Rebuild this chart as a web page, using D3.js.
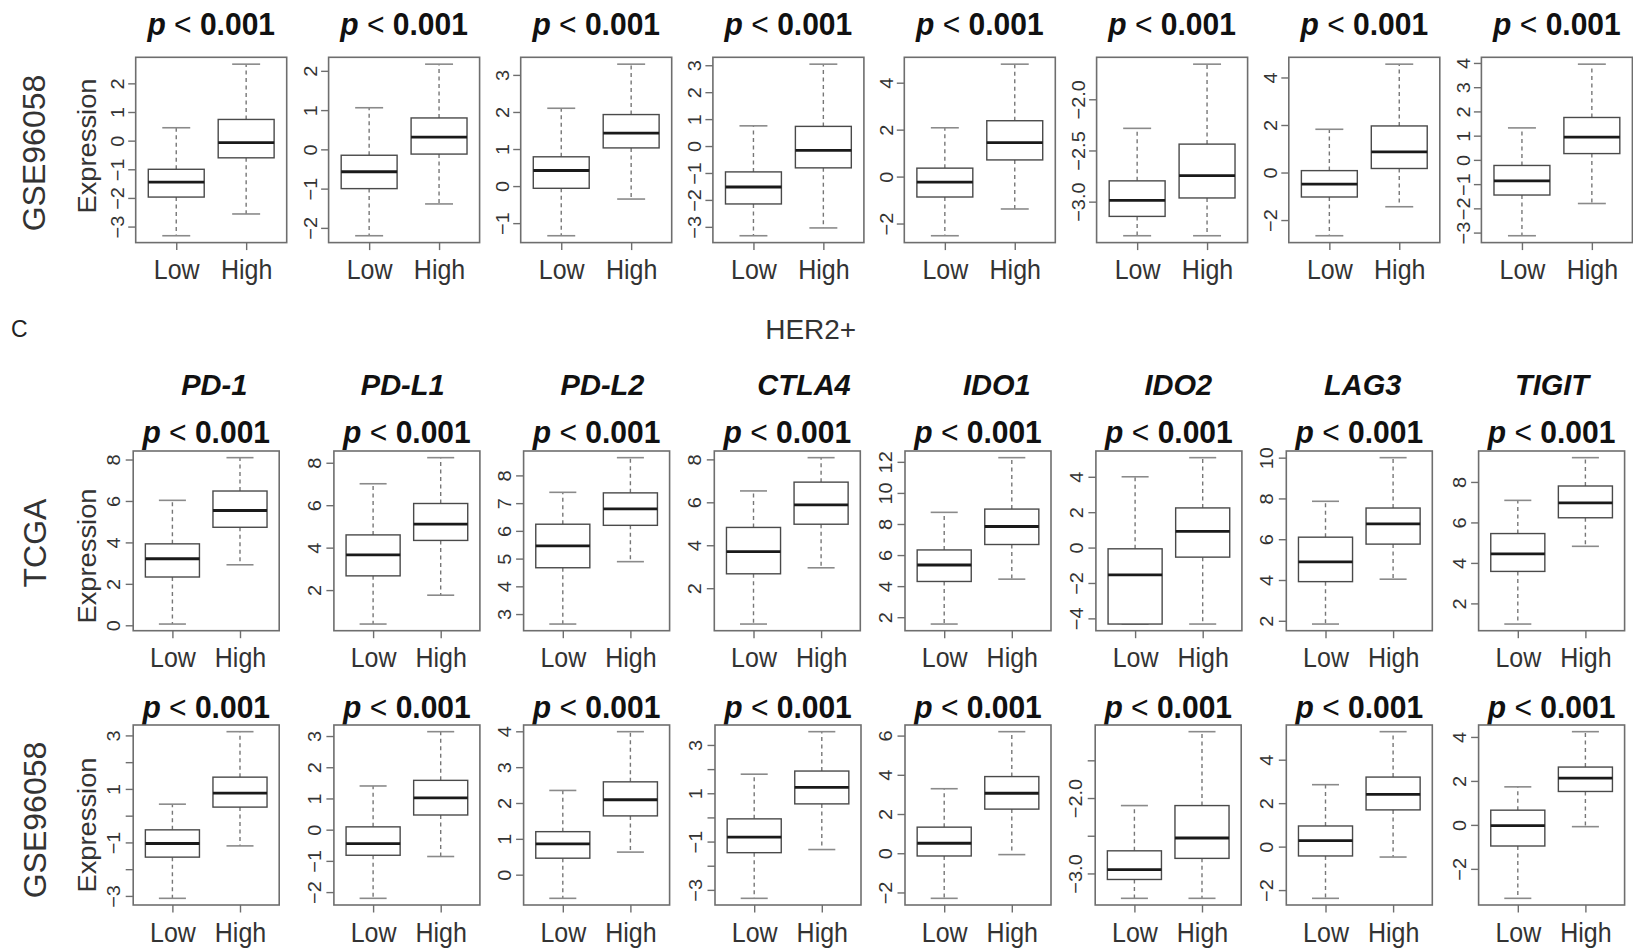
<!DOCTYPE html>
<html><head><meta charset="utf-8">
<script src="https://cdn.jsdelivr.net/npm/d3@7"></script>
<style>
body{margin:0;background:#fff}
svg{display:block}
text{font-family:"Liberation Sans",Arial,Helvetica,sans-serif}
</style>
</head><body>
<svg id="chart" width="1633" height="948"></svg>
<script>
// ---------------- DATA ----------------
const genes = ["PD-1","PD-L1","PD-L2","CTLA4","IDO1","IDO2","LAG3","TIGIT"];
const groups = ["Low","High"];
const rowNames = ["GSE96058","TCGA","GSE96058"];
const pLabel = ["p", " < ", "0.001"];
const subtypeTitle = "HER2+";
const panelLetter = "C";
const yLabel = "Expression";

// each box: [lower whisker, Q1, median, Q3, upper whisker]
const gseTopLow = [
  [-3.32,-1.97,-1.45,-1.00,0.45],
  [-2.20,-1.00,-0.57,-0.15,1.06],
  [-1.34,-0.06,0.42,0.79,2.10],
  [-3.33,-2.15,-1.52,-0.96,0.75],
  [-2.52,-0.87,-0.24,0.36,2.08],
  [-3.333,-3.144,-2.987,-2.797,-2.284],
  [-2.66,-1.03,-0.49,0.08,1.82],
  [-3.13,-1.45,-0.87,-0.23,1.32]
];
const gseTopHigh = [
  [-2.56,-0.60,-0.07,0.74,2.67],
  [-1.39,-0.12,0.31,0.80,2.17],
  [-0.35,1.03,1.43,1.93,3.29],
  [-3.04,-0.81,-0.16,0.73,3.04],
  [-1.38,0.71,1.45,2.38,4.79],
  [-3.333,-2.964,-2.745,-2.438,-1.657],
  [-1.44,0.17,0.87,1.96,4.56],
  [-1.80,0.26,0.94,1.75,3.95]
];
const tcgaLow = [
  [0.06,2.33,3.21,3.93,6.03],
  [0.40,2.67,3.66,4.60,7.01],
  [2.64,4.67,5.46,6.24,7.39],
  [0.33,2.67,3.70,4.83,6.53],
  [1.56,4.30,5.36,6.33,8.75],
  [-4.32,-4.32,-1.54,-0.07,4.00],
  [1.84,3.92,4.89,6.10,7.86],
  [0.98,3.58,4.45,5.45,7.09]
];
const tcgaHigh = [
  [2.92,4.73,5.54,6.48,8.09],
  [1.76,4.34,5.11,6.08,8.24],
  [4.89,6.20,6.79,7.37,8.64],
  [2.95,4.98,5.88,6.94,8.08],
  [4.45,6.68,7.84,8.96,12.27],
  [-4.32,-0.54,0.92,2.24,5.08],
  [4.04,5.76,6.75,7.53,10.00],
  [4.82,6.23,6.97,7.80,9.20]
];
const gseBottomLow = [
  [-3.09,-1.55,-1.04,-0.53,0.43],
  [-2.20,-0.82,-0.45,0.09,1.40],
  [-0.66,0.46,0.86,1.20,2.35],
  [-3.35,-1.46,-0.82,-0.06,1.79],
  [-2.30,-0.14,0.51,1.33,3.29],
  [-3.33,-3.08,-2.95,-2.70,-2.10],
  [-2.38,-0.43,0.28,0.95,2.85],
  [-3.34,-0.96,-0.03,0.67,1.73]
];
const gseBottomHigh = [
  [-1.13,0.32,0.84,1.44,3.14],
  [-0.86,0.47,1.02,1.58,3.14],
  [0.63,1.64,2.09,2.59,3.99],
  [-1.33,0.56,1.24,1.92,3.55],
  [-0.07,2.25,3.06,3.91,6.20],
  [-3.33,-2.80,-2.53,-2.10,-1.12],
  [-0.48,1.69,2.40,3.20,5.29],
  [-0.08,1.52,2.13,2.63,4.24]
];

// y-axis tick values and their printed labels ("" = tick without label)
const gseTopTicks = [[-3,-2,-1,0,1,2],[-2,-1,0,1,2],[-1,0,1,2,3],[-3,-2,-1,0,1,2,3],[-2,0,2,4],[-3.0,-2.5,-2.0],[-2,0,2,4],[-3,-2,-1,0,1,2,3,4]];
const gseTopTickLabels = [
  ["\u22123","\u22122","\u22121","0","1","2"],
  ["\u22122","\u22121","0","1","2"],
  ["\u22121","0","1","2","3"],
  ["\u22123","\u22122","\u22121","0","1","2","3"],
  ["\u22122","0","2","4"],
  ["\u22123.0","\u22122.5","\u22122.0"],
  ["\u22122","0","2","4"],
  ["\u22123","\u22122","\u22121","0","1","2","3","4"]
];
const tcgaTicks = [[0,2,4,6,8],[2,4,6,8],[3,4,5,6,7,8],[2,4,6,8],[2,4,6,8,10,12],[-4,-2,0,2,4],[2,4,6,8,10],[2,4,6,8]];
const tcgaTickLabels = [
  ["0","2","4","6","8"],
  ["2","4","6","8"],
  ["3","4","5","6","7","8"],
  ["2","4","6","8"],
  ["2","4","6","8","10","12"],
  ["\u22124","\u22122","0","2","4"],
  ["2","4","6","8","10"],
  ["2","4","6","8"]
];
const gseBottomTicks = [[-3,-2,-1,0,1,2,3],[-2,-1,0,1,2,3],[0,1,2,3,4],[-3,-2,-1,0,1,2,3],[-2,0,2,4,6],[-3.0,-2.5,-2.0,-1.5],[-2,0,2,4],[-2,0,2,4]];
const gseBottomTickLabels = [
  ["\u22123","","\u22121","","1","","3"],
  ["\u22122","\u22121","0","1","2","3"],
  ["0","1","2","3","4"],
  ["\u22123","","\u22121","","1","","3"],
  ["\u22122","0","2","4","6"],
  ["\u22123.0","","\u22122.0",""],
  ["\u22122","0","2","4"],
  ["\u22122","0","2","4"]
];

// ---------------- LAYOUT ----------------
const rowLayout = [
  {top:57.3, height:185.3, width:151, lefts:[135.7,328.6,520.7,712.9,904.3,1096.6,1288.8,1481.4],
   pY:35, groupY:279, tickGap:11.5, rowLabelY:153, yLabelY:146},
  {top:451, height:179.7, width:146, lefts:[133.2,333.9,523.6,714.3,905,1095.9,1286.3,1478.6],
   pY:443, groupY:667, tickGap:13, rowLabelY:543, yLabelY:556},
  {top:725, height:180, width:146, lefts:[133.2,333.9,523.6,715,905,1095.2,1286.3,1478.6],
   pY:718, groupY:942, tickGap:13, rowLabelY:820, yLabelY:825}
];
const geneLabelX = [214.3,402.7,602.5,804,996.8,1178.4,1362.7,1552];

const rowsData = [
  {low:gseTopLow, high:gseTopHigh, ticks:gseTopTicks, labels:gseTopTickLabels},
  {low:tcgaLow, high:tcgaHigh, ticks:tcgaTicks, labels:tcgaTickLabels},
  {low:gseBottomLow, high:gseBottomHigh, ticks:gseBottomTicks, labels:gseBottomTickLabels}
];

const svg = d3.select("#chart");
const FRAME = "#6e6e6e";

rowsData.forEach((rd, r) => {
  const L = rowLayout[r];
  const bottom = L.top + L.height;

  // row label
  svg.append("text")
    .attr("transform", `translate(${r===0?45:46},${L.rowLabelY}) rotate(-90)`)
    .attr("text-anchor","middle").attr("font-size",32).attr("fill","#333")
    .text(rowNames[r]);
  // y label
  svg.append("text")
    .attr("transform", `translate(96,${L.yLabelY}) rotate(-90) scale(1.05,1)`)
    .attr("text-anchor","middle").attr("font-size",26).attr("fill","#333")
    .text(yLabel);

  for (let i = 0; i < 8; i++) {
    const left = L.lefts[i], right = left + L.width;
    const boxes = [rd.low[i], rd.high[i]];
    const all = boxes.flat();
    const mn = d3.min(all), mx = d3.max(all), pad = 0.04*(mx-mn);
    const y = d3.scaleLinear().domain([mn-pad, mx+pad]).range([bottom, L.top]);
    const x = d3.scaleLinear().domain([0.42, 2.58]).range([left, right]);
    const g = svg.append("g");

    // p-value title
    const pt = g.append("text")
      .attr("transform", `translate(${(left+right)/2},${L.pY}) scale(1,1.05)`)
      .attr("text-anchor","middle").attr("font-size",30).attr("fill","#111");
    pt.append("tspan").attr("font-weight","bold").attr("font-style","italic").text(pLabel[0]);
    pt.append("tspan").attr("font-weight","normal").text(pLabel[1]);
    pt.append("tspan").attr("font-weight","bold").text(pLabel[2]);

    boxes.forEach((b, k) => {
      const cx = k + 1;
      // whiskers
      g.append("line").attr("x1",x(cx)).attr("x2",x(cx)).attr("y1",y(b[3])).attr("y2",y(b[4]))
        .attr("stroke","#777").attr("stroke-width",1.4).attr("stroke-dasharray","4,3.5");
      g.append("line").attr("x1",x(cx)).attr("x2",x(cx)).attr("y1",y(b[1])).attr("y2",y(b[0]))
        .attr("stroke","#777").attr("stroke-width",1.4).attr("stroke-dasharray","4,3.5");
      // caps
      [b[0], b[4]].forEach(v => {
        g.append("line").attr("x1",x(cx-0.2)).attr("x2",x(cx+0.2)).attr("y1",y(v)).attr("y2",y(v))
          .attr("stroke","#8a8a8a").attr("stroke-width",1.6);
      });
      // box
      g.append("rect").attr("x",x(cx-0.4)).attr("width",x(cx+0.4)-x(cx-0.4))
        .attr("y",y(b[3])).attr("height",Math.max(0,y(b[1])-y(b[3])))
        .attr("fill","#fff").attr("stroke","#4a4a4a").attr("stroke-width",1.4);
      // median
      g.append("line").attr("x1",x(cx-0.4)).attr("x2",x(cx+0.4)).attr("y1",y(b[2])).attr("y2",y(b[2]))
        .attr("stroke","#1a1a1a").attr("stroke-width",2.8);
    });

    // frame
    g.append("rect").attr("x",left).attr("y",L.top).attr("width",L.width).attr("height",L.height)
      .attr("fill","none").attr("stroke",FRAME).attr("stroke-width",1.6);

    // y axis
    const ya = g.append("g").attr("transform",`translate(${left},0)`)
      .call(d3.axisLeft(y).tickValues(rd.ticks[i]).tickFormat((d,j)=>rd.labels[i][j]).tickSize(7.5));
    ya.attr("font-family",null).attr("font-size",null);
    ya.select(".domain").remove();
    ya.selectAll("line").attr("stroke",FRAME).attr("stroke-width",1.4);
    ya.selectAll("text").attr("x",0).attr("y",0).attr("dy",null)
      .attr("transform",`translate(${-L.tickGap},0) rotate(-90) scale(1.05,1)`)
      .attr("text-anchor","middle").attr("font-size",19).attr("fill","#333");

    // x axis
    const xa = g.append("g").attr("transform",`translate(0,${bottom})`)
      .call(d3.axisBottom(x).tickValues([1,2]).tickFormat(d=>groups[d-1]).tickSize(7.5));
    xa.attr("font-family",null).attr("font-size",null);
    xa.select(".domain").remove();
    xa.selectAll("line").attr("stroke",FRAME).attr("stroke-width",1.4);
    xa.selectAll("text").attr("y",0).attr("dy",null)
      .attr("transform",`translate(0,${L.groupY-bottom}) scale(1,1.1)`)
      .attr("text-anchor","middle").attr("font-size",25).attr("fill","#333");
  }
});

// gene names (middle row header)
genes.forEach((gn, i) => {
  svg.append("text").attr("x",geneLabelX[i]).attr("y",395)
    .attr("text-anchor","middle").attr("font-size",29).attr("font-weight","bold")
    .attr("font-style","italic").attr("fill","#111").text(gn);
});

// subtype title and panel letter
svg.append("text").attr("x",810.7).attr("y",339).attr("text-anchor","middle")
  .attr("font-family","'Open Sans',sans-serif").attr("font-size",28).attr("fill","#333").text(subtypeTitle);
svg.append("text").attr("x",11).attr("y",337)
  .attr("font-family","'Open Sans',sans-serif").attr("font-size",23).attr("fill","#222").text(panelLetter);
</script>
</body></html>
